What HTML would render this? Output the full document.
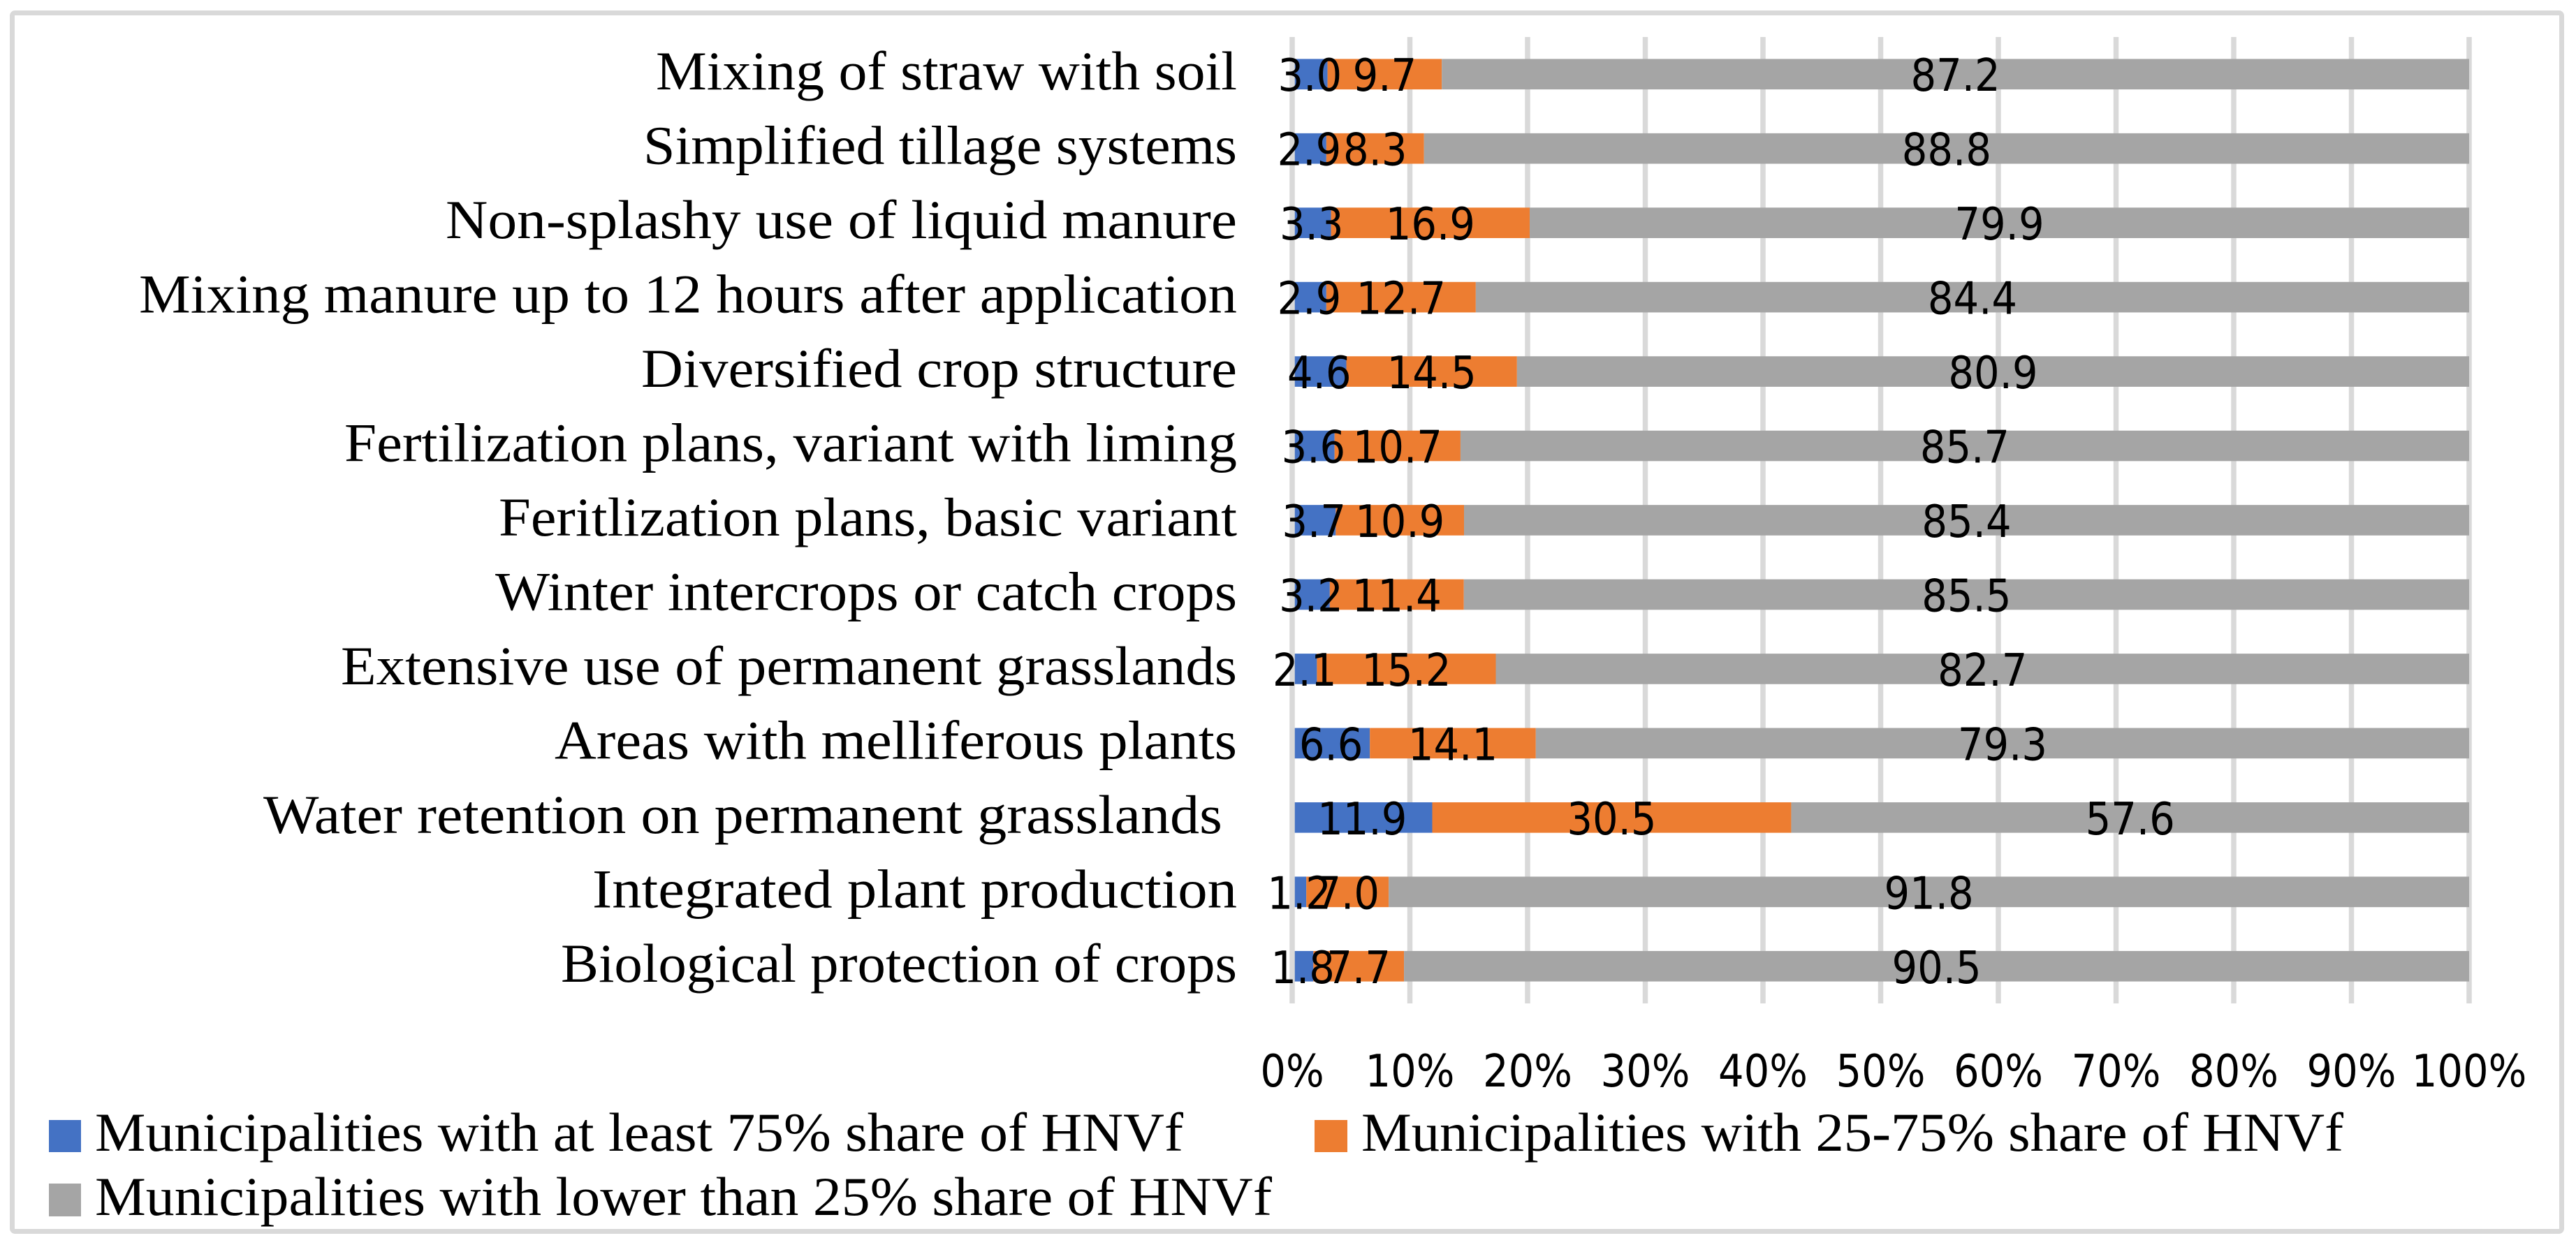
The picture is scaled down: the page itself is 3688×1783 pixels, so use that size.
<!DOCTYPE html>
<html lang="en">
<head>
<meta charset="utf-8">
<title>Share of municipalities by HNVf class</title>
<style>
html,body{margin:0;padding:0;background:#fff;width:3688px;height:1783px;overflow:hidden}
svg{display:block}
.cat,.leg{font-family:"Liberation Serif",serif;font-size:78px;fill:#000}
.num{font-family:"DejaVu Sans Condensed","Liberation Sans",sans-serif;font-size:64px;fill:#000}
</style>
</head>
<body>
<svg id="chart" xmlns="http://www.w3.org/2000/svg" width="3688" height="1783" viewBox="0 0 3688 1783">
  <rect x="17.5" y="18.5" width="3650" height="1745" rx="4" fill="#fff" stroke="#d9d9d9" stroke-width="7"/>
  <g id="grid"></g>
  <g id="bars"></g>
  <g id="axis"></g>
  <g id="cats"></g>
  <g id="vals"></g>
  <g>
    <rect x="70" y="1604" width="46" height="46" fill="#4472c4"/>
    <text class="leg" x="136" y="1648" textLength="1558" lengthAdjust="spacingAndGlyphs">Municipalities with at least 75% share of HNVf</text>
    <rect x="1882" y="1604" width="47" height="46" fill="#ed7d31"/>
    <text class="leg" x="1949" y="1648" textLength="1406" lengthAdjust="spacingAndGlyphs">Municipalities with 25-75% share of HNVf</text>
    <rect x="70" y="1695" width="46" height="47" fill="#a5a5a5"/>
    <text class="leg" x="136" y="1740" textLength="1685" lengthAdjust="spacingAndGlyphs">Municipalities with lower than 25% share of HNVf</text>
  </g>
</svg>
<script>
const categories = [
  "Mixing of straw with soil",
  "Simplified tillage systems",
  "Non-splashy use of liquid manure",
  "Mixing manure up to 12 hours after application",
  "Diversified crop structure",
  "Fertilization plans, variant with liming",
  "Feritlization plans, basic variant",
  "Winter intercrops or catch crops",
  "Extensive use of permanent grasslands",
  "Areas with melliferous plants",
  "Water retention on permanent grasslands\u00a0",
  "Integrated plant production",
  "Biological protection of crops"
];
const highShare = [3.0, 2.9, 3.3, 2.9, 4.6, 3.6, 3.7, 3.2, 2.1, 6.6, 11.9, 1.2, 1.8];
const midShare = [9.7, 8.3, 16.9, 12.7, 14.5, 10.7, 10.9, 11.4, 15.2, 14.1, 30.5, 7.0, 7.7];
const lowShare = [87.2, 88.8, 79.9, 84.4, 80.9, 85.7, 85.4, 85.5, 82.7, 79.3, 57.6, 91.8, 90.5];
const tickValues = [0, 10, 20, 30, 40, 50, 60, 70, 80, 90, 100];

const NS = "http://www.w3.org/2000/svg";
const plot = {left: 1850, right: 3535, top: 53, bottom: 1437};
const barFill = 0.41;
const seriesColors = ["#4472c4", "#ed7d31", "#a5a5a5"];
const seriesKeys = ["high", "mid", "low"];
/* Text fit: the reference typeface is wider than Liberation Serif, so each label is stretched to its width. */
const labelFit = {
  "Mixing of straw with soil": 832,
  "Simplified tillage systems": 850,
  "Non-splashy use of liquid manure": 1133,
  "Mixing manure up to 12 hours after application": 1572,
  "Diversified crop structure": 853,
  "Fertilization plans, variant with liming": 1278,
  "Feritlization plans, basic variant": 1057,
  "Winter intercrops or catch crops": 1062,
  "Extensive use of permanent grasslands": 1283,
  "Areas with melliferous plants": 977,
  "Water retention on permanent grasslands\u00a0": 1394,
  "Integrated plant production": 923,
  "Biological protection of crops": 968
};

function xScale(pct) { return plot.left + (plot.right - plot.left) * pct / 100; }
function rowBand() { return (plot.bottom - plot.top) / categories.length; }
function rowCenter(i) { return plot.top + rowBand() * (i + 0.5); }
function el(tag, parent) { const n = document.createElementNS(NS, tag); parent.appendChild(n); return n; }

const grid = document.getElementById("grid");
const bars = document.getElementById("bars");
const axis = document.getElementById("axis");
const cats = document.getElementById("cats");
const vals = document.getElementById("vals");

tickValues.forEach(function (t) {
  const line = el("rect", t === 0 ? axis : grid);
  
  
  line.setAttribute("x", xScale(t) - 3.75);
  line.setAttribute("y", plot.top);
  line.setAttribute("width", 7.5);
  line.setAttribute("height", plot.bottom - plot.top);
  line.setAttribute("fill", "#d9d9d9");

  const label = el("text", vals);
  
  
  label.setAttribute("class", "num");
  label.setAttribute("x", xScale(t));
  label.setAttribute("y", 1556);
  label.setAttribute("text-anchor", "middle");
  label.textContent = t + "%";
});

categories.forEach(function (name, i) {
  const c = rowCenter(i);
  const h = rowBand() * barFill;

  const cat = el("text", cats);
  
  
  cat.setAttribute("class", "cat");
  cat.setAttribute("x", 1771);
  cat.setAttribute("y", c + 22);
  cat.setAttribute("text-anchor", "end");
  cat.setAttribute("textLength", labelFit[name]);
  cat.setAttribute("lengthAdjust", "spacingAndGlyphs");
  cat.textContent = name;

  const rowValues = [highShare[i], midShare[i], lowShare[i]];
  const total = rowValues[0] + rowValues[1] + rowValues[2];
  let running = 0;
  rowValues.forEach(function (v, s) {
    const start = running / total * 100;
    running += v;
    const end = running / total * 100;

    const bar = el("rect", bars);
    
    
    bar.setAttribute("x", xScale(start));
    bar.setAttribute("y", c - h / 2);
    bar.setAttribute("width", xScale(end) - xScale(start));
    bar.setAttribute("height", h);
    bar.setAttribute("fill", seriesColors[s]);

    const val = el("text", vals);
    
    
    val.setAttribute("class", "num");
    val.setAttribute("x", xScale((start + end) / 2));
    val.setAttribute("y", c + 24);
    val.setAttribute("text-anchor", "middle");
    val.textContent = v.toFixed(1);
  });
});
</script>
</body>
</html>
